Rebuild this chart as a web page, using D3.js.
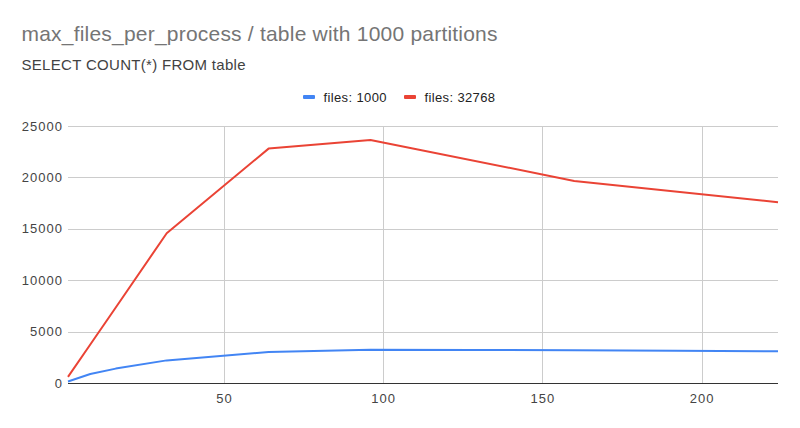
<!DOCTYPE html>
<html><head><meta charset="utf-8">
<script src="https://cdn.jsdelivr.net/npm/d3@7"></script>
<style>body{margin:0;background:#fff;} svg{display:block;font-family:"Liberation Sans",Arial,sans-serif;}</style>
</head><body>
<svg id="chart" width="800" height="428"></svg>
<script>
const title = "max_files_per_process / table with 1000 partitions";
const subtitle = "SELECT COUNT(*) FROM table";
const seriesNames = ["files: 1000", "files: 32768"];
const seriesColors = ["#4285F4", "#EA4335"];
const xValues = [1, 8, 16, 32, 64, 96, 128, 160, 192, 224];
const files1000 = [150, 870, 1400, 2200, 3010, 3240, 3210, 3180, 3140, 3080];
const files32768 = [590, 3740, 7340, 14570, 22800, 23640, null, 19660, null, 17590];
const yTicks = [0, 5000, 10000, 15000, 20000, 25000];
const xTicks = [50, 100, 150, 200];

const FONT = '"Liberation Sans",Arial,sans-serif';
const svg = d3.select("#chart");
const m = {left: 68, right: 22, top: 126, bottom: 45};
const W = 800, H = 428;
const x = d3.scaleLinear().domain([1, 224]).range([m.left, W - m.right]);
const y = d3.scaleLinear().domain([0, 25000]).range([H - m.bottom, m.top]);

svg.append("text").attr("x", 21.5).attr("y", 41).attr("font-size", 21).attr("fill", "#757575")
  .attr("textLength", 476).attr("lengthAdjust", "spacing").text(title);
svg.append("text").attr("x", 21.5).attr("y", 69.5).attr("font-size", 15).attr("fill", "#424242")
  .attr("textLength", 224).attr("lengthAdjust", "spacing").text(subtitle);

// grid
svg.append("g").selectAll("line").data(yTicks.filter(d => d > 0)).join("line")
  .attr("x1", m.left).attr("x2", W - m.right)
  .attr("y1", d => Math.round(y(d)) + 0.5).attr("y2", d => Math.round(y(d)) + 0.5)
  .attr("stroke", "#cccccc").attr("stroke-width", 1);
svg.append("g").selectAll("line").data(xTicks).join("line")
  .attr("y1", m.top).attr("y2", H - m.bottom)
  .attr("x1", d => Math.round(x(d)) + 0.5).attr("x2", d => Math.round(x(d)) + 0.5)
  .attr("stroke", "#cccccc").attr("stroke-width", 1);

// axes labels
const yAxis = d3.axisLeft(y).tickValues(yTicks).tickSize(0).tickPadding(5).tickFormat(d3.format("d"));
const gy = svg.append("g").attr("transform", `translate(${m.left},0)`).call(yAxis);
gy.select(".domain").remove();
gy.selectAll("text").attr("font-size", 13).attr("fill", "#444").attr("font-family", FONT)
  .attr("letter-spacing", "1px");

const xAxis = d3.axisBottom(x).tickValues(xTicks).tickSize(0).tickPadding(11);
const gx = svg.append("g").attr("transform", `translate(0,${H - m.bottom})`).call(xAxis);
gx.select(".domain").remove();
gx.selectAll("text").attr("font-size", 13).attr("fill", "#444").attr("font-family", FONT)
  .attr("letter-spacing", "1px");

// baseline
svg.append("line").attr("x1", m.left).attr("x2", W - m.right)
  .attr("y1", Math.round(y(0)) + 0.5).attr("y2", Math.round(y(0)) + 0.5)
  .attr("stroke", "#333").attr("stroke-width", 1);

// lines
const line = d3.line().defined(d => d[1] != null).x(d => x(d[0])).y(d => y(d[1]));
[files1000, files32768].forEach((vals, i) => {
  const pts = xValues.map((xv, j) => [xv, vals[j]]).filter(d => d[1] != null);
  svg.append("path").datum(pts).attr("d", line).attr("fill", "none")
    .attr("stroke", seriesColors[i]).attr("stroke-width", 2).attr("stroke-linejoin", "round");
});

// legend
const legendX = [303, 404];
const legendLen = [63, 70.5];
seriesNames.forEach((n, i) => {
  svg.append("rect").attr("x", legendX[i]).attr("y", 95).attr("width", 12).attr("height", 4)
    .attr("rx", 1).attr("fill", seriesColors[i]);
  svg.append("text").attr("x", legendX[i] + 20.5).attr("y", 101.5).attr("font-size", 13)
    .attr("textLength", legendLen[i]).attr("lengthAdjust", "spacing")
    .attr("fill", "#222").text(n);
});
</script>
</body></html>
